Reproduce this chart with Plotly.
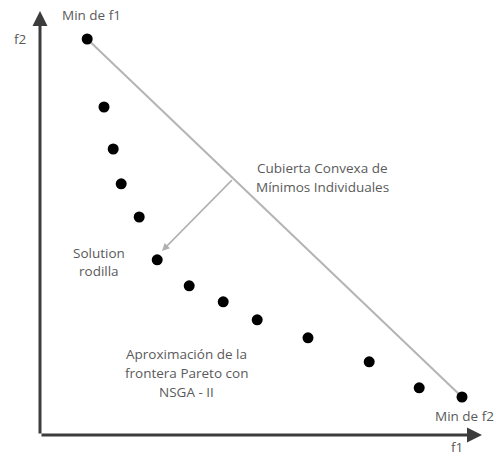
import plotly.graph_objects as go

# Pareto front approximation (NSGA-II), arbitrary units
f1 = [1.18, 1.60, 1.83, 2.03, 2.48, 2.93, 3.73, 4.58, 5.43, 6.70, 8.23, 9.48, 10.55]
f2 = [9.90, 8.20, 7.15, 6.28, 5.45, 4.38, 3.73, 3.33, 2.88, 2.43, 1.83, 1.18, 0.95]
knee_index = 5

TXT = "#5a5a5a"
FONT = "Open Sans"

fig = go.Figure()

# convex hull of individual minima (line between extremes)
fig.add_trace(go.Scatter(x=[f1[0], f1[-1]], y=[f2[0], f2[-1]], mode="lines",
                         line=dict(color="#b4b4b4", width=2), hoverinfo="skip"))
fig.add_trace(go.Scatter(x=f1, y=f2, mode="markers",
                         marker=dict(color="black", size=11), hoverinfo="skip"))

anns = []
# axes with arrows
anns.append(dict(x=0, y=10.6, ax=0, ay=0, xref="x", yref="y", axref="x", ayref="y",
                 showarrow=True, arrowhead=2, arrowsize=1, arrowwidth=3,
                 arrowcolor="#3c3c3c", text=""))
anns.append(dict(x=11.05, y=0, ax=0, ay=0, xref="x", yref="y", axref="x", ayref="y",
                 showarrow=True, arrowhead=2, arrowsize=1, arrowwidth=3,
                 arrowcolor="#3c3c3c", text=""))
# arrow from hull to knee solution
hx = f1[0] + (f1[-1] - f1[0]) * 0.39
hy = f2[0] + (f2[-1] - f2[0]) * 0.39
anns.append(dict(x=f1[knee_index] + 0.12, y=f2[knee_index] + 0.22, ax=hx, ay=hy,
                 xref="x", yref="y", axref="x", ayref="y",
                 showarrow=True, arrowhead=2, arrowsize=1.0, arrowwidth=1.5,
                 arrowcolor="#b0b0b0", text=""))

def label(x, y, t):
    anns.append(dict(x=x, y=y, xref="x", yref="y", text=t, showarrow=False,
                     font=dict(family=FONT, size=13.5, color=TXT)))

label(1.28, 10.5, "Min de f1")
label(-0.5, 9.9, "f2")
label(7.05, 6.68, "Cubierta Convexa de")
label(7.05, 6.2, "Mínimos Individuales")
label(1.47, 4.55, "Solution")
label(1.47, 4.1, "rodilla")
label(3.65, 2.03, "Aproximación de la")
label(3.65, 1.56, "frontera Pareto con")
label(3.65, 1.08, "NSGA - II")
label(10.6, 0.48, "Min de f2")
label(10.42, -0.3, "f1")

fig.update_layout(
    width=496, height=455, margin=dict(l=0, r=0, t=0, b=0),
    paper_bgcolor="white", plot_bgcolor="white", showlegend=False,
    annotations=anns,
    xaxis=dict(range=[-1.0, 11.4], visible=False, fixedrange=True),
    yaxis=dict(range=[-0.5, 10.875], visible=False, fixedrange=True),
)
fig.write_html("out.html", config={"displayModeBar": False},
               post_script="document.body.style.margin='0';document.body.style.overflow='hidden';")
